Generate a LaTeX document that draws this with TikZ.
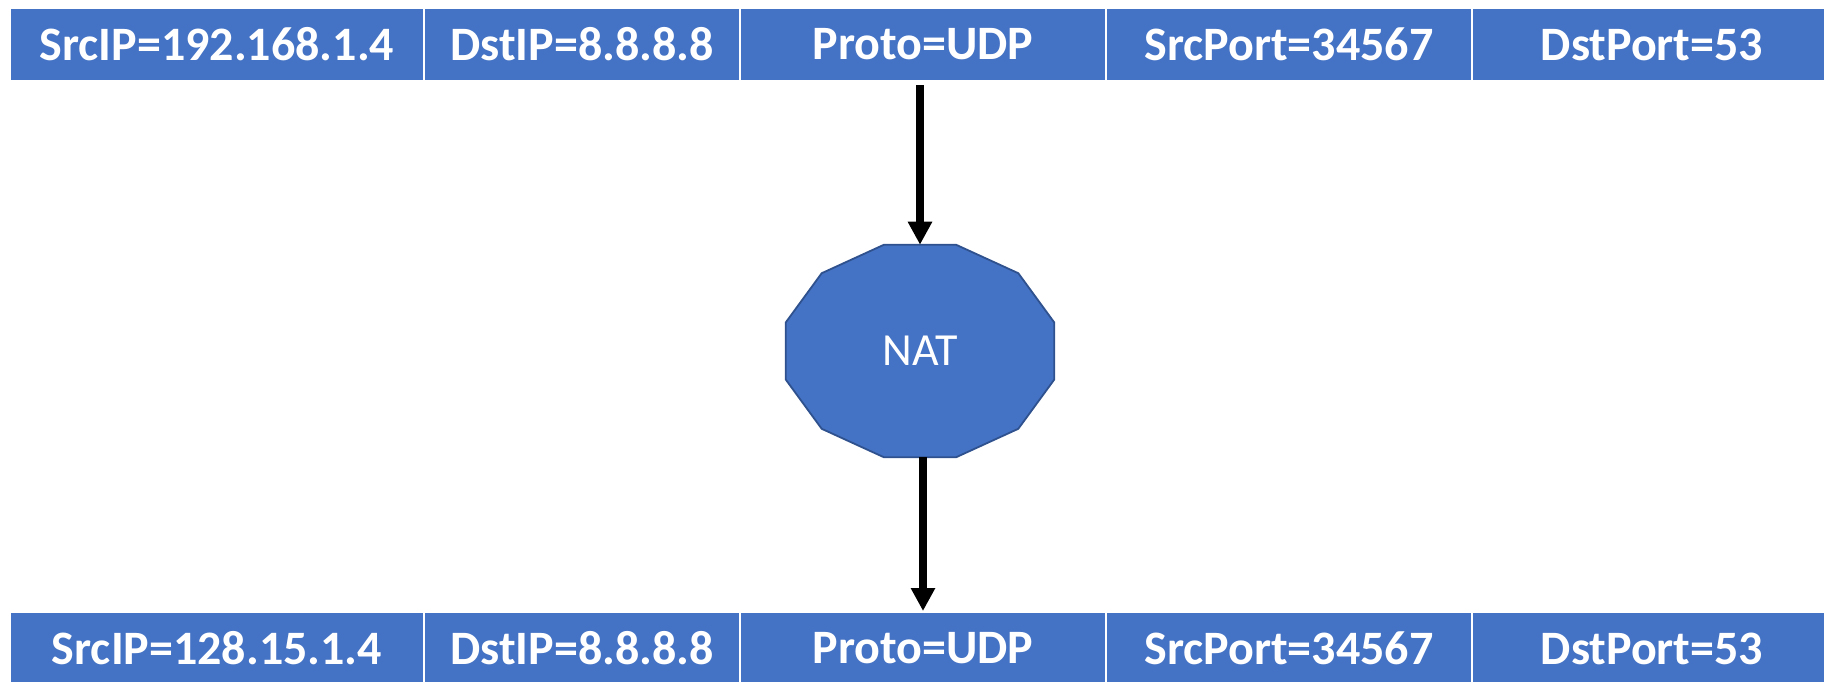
\documentclass[tikz,border=0pt]{standalone}
\usepackage{fontspec}
\setmainfont{Carlito}
\usetikzlibrary{arrows.meta,positioning}
\definecolor{fieldblue}{HTML}{4472C4}
\definecolor{natedge}{HTML}{2F528F}
\tikzset{
  field/.style={rectangle, fill=fieldblue, draw=white, line width=1.5pt,
    inner sep=0pt, outer sep=0pt, minimum height=73pt, anchor=north west,
    text=white, font=\bfseries\fontsize{48}{51}\selectfont},
  natlabel/.style={rectangle, inner sep=0pt, outer sep=0pt,
    minimum width=266pt, minimum height=212.6pt, text=white,
    font=\fontsize{46}{49}\selectfont},
  natline/.style={fill=fieldblue, draw=natedge, line width=1.8pt, line join=miter},
  flow/.style={draw=black, line width=7.5pt, -{Triangle[width=23pt,length=23pt]}}
}
\begin{document}
\begin{tikzpicture}[x=1pt,y=-1pt]
\useasboundingbox (0,0) rectangle (1824,681);

% incoming packet header
\node[field, minimum width=414pt] (t1) at (10,8)   {SrcIP=192.168.1.4};
\node[field, minimum width=316pt] (t2) at (424,8)  {DstIP=8.8.8.8};
\node[field, minimum width=366pt] (t3) at (740,8)  {Proto=UDP};
\node[field, minimum width=366pt] (t4) at (1106,8) {SrcPort=34567};
\node[field, minimum width=360pt] (t5) at (1472,8) {DstPort=53};

% translated packet header
\node[field, minimum width=414pt] (b1) at (10,612)   {SrcIP=128.15.1.4};
\node[field, minimum width=316pt] (b2) at (424,612)  {DstIP=8.8.8.8};
\node[field, minimum width=366pt] (b3) at (740,612)  {Proto=UDP};
\node[field, minimum width=366pt] (b4) at (1106,612) {SrcPort=34567};
\node[field, minimum width=360pt] (b5) at (1472,612) {DstPort=53};

% NAT box: stretched dodecagon
\draw[natline] (1054.3,322.5) -- (1018.3,273.2) -- (956,244.7) -- (884,244.7)
  -- (821.7,273.2) -- (785.7,322.5) -- (785.7,379.5) -- (821.7,428.8)
  -- (884,457.3) -- (956,457.3) -- (1018.3,428.8) -- (1054.3,379.5) -- cycle;
\node[natlabel] (nat) at (920,351) {NAT};

% arrows through the translator
\draw[flow, shorten <=4pt] (nat.north |- t3.south) -- (nat.north);
\draw[flow, shorten >=1pt] (nat.south -| b3.north) -- (b3.north);
\end{tikzpicture}
\end{document}
